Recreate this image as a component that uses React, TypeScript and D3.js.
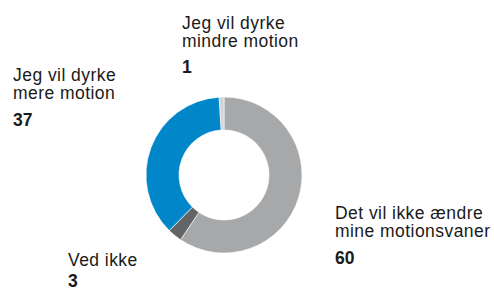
import * as d3 from "d3";
import { useEffect, useRef } from "react";

const categories = [
  "Det vil ikke ændre mine motionsvaner",
  "Ved ikke",
  "Jeg vil dyrke mere motion",
  "Jeg vil dyrke mindre motion",
];
const values = [60, 3, 37, 1];
const colors = ["#a7a8aa", "#636466", "#0086c9", "#d2d3d5"];

// label lines per category, and where each label block sits
const labelLines = [
  ["Det vil ikke ændre", "mine motionsvaner"],
  ["Ved ikke"],
  ["Jeg vil dyrke", "mere motion"],
  ["Jeg vil dyrke", "mindre motion"],
];
const labelPos = [
  { x: 335, y: 219, gap: 27 },
  { x: 68, y: 266, gap: 21 },
  { x: 13, y: 81, gap: 27 },
  { x: 182, y: 29, gap: 26 },
];

const W = 494;
const H = 291;

const App = () => {
  const ref = useRef<SVGSVGElement>(null);

  useEffect(() => {
    const svg = d3.select(ref.current);
    svg.selectAll("*").remove();

    const cx = 224;
    const cy = 175;
    const outer = 78;
    const inner = 45;

    const data = categories.map((c, i) => ({ label: c, value: values[i], color: colors[i] }));

    const pie = d3
      .pie<any>()
      .sort(null)
      .value((d) => d.value);

    const arc = d3.arc<any>().innerRadius(inner).outerRadius(outer);

    svg
      .append("g")
      .attr("transform", `translate(${cx},${cy})`)
      .selectAll("path")
      .data(pie(data))
      .join("path")
      .attr("d", arc)
      .attr("fill", (d) => d.data.color)
      .attr("stroke", "#fff")
      .attr("stroke-width", 0.6);

    const lineH = 18;
    const labels = svg
      .append("g")
      .attr("font-family", "'Liberation Sans', Arial, Helvetica, sans-serif")
      .attr("font-size", 17.5)
      .attr("letter-spacing", 0.45)
      .attr("fill", "#1a1a1a");

    data.forEach((d, i) => {
      const p = labelPos[i];
      const g = labels.append("g");
      labelLines[i].forEach((line, j) => {
        g.append("text")
          .attr("x", p.x)
          .attr("y", p.y + j * lineH)
          .text(line);
      });
      g.append("text")
        .attr("x", p.x)
        .attr("y", p.y + (labelLines[i].length - 1) * lineH + p.gap)
        .attr("font-weight", "bold")
        .attr("letter-spacing", 0)
        .text(d.value);
    });
  }, []);

  return (
    <svg
      ref={ref}
      width={W}
      height={H}
      style={{ position: "absolute", left: 0, top: 0, background: "#fff" }}
    />
  );
};

export default App;
